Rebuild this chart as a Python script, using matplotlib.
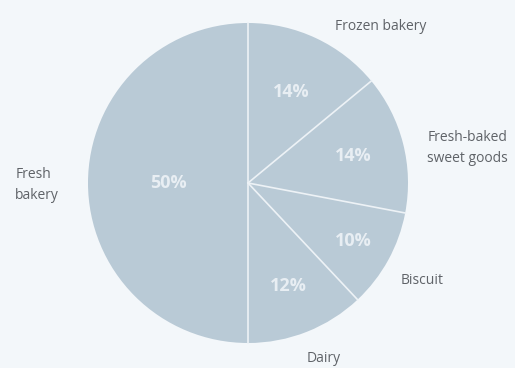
import matplotlib
matplotlib.use("Agg")
import matplotlib.pyplot as plt
import numpy as np

# Market share by segment (per cent), clockwise from 12 o'clock
categories = ["Frozen bakery", "Fresh-baked\nsweet goods", "Biscuit", "Dairy", "Fresh\nbakery"]
shares = [14, 14, 10, 12, 50]
pct_labels = ["14%", "14%", "10%", "12%", "50%"]

# Radial distance of each percentage label (fraction of radius)
pct_radius = [0.63, 0.68, 0.75, 0.69, 0.50]
# Category label anchors in data units (pie radius = 1)
label_pos = [(0.83, 0.98), (1.12, 0.22), (1.09, -0.61), (0.47, -1.10), (-1.455, -0.01)]
label_ha = ["center", "left", "center", "center", "left"]

bg = "#f3f7fa"
fill = "#b9cad6"
text_col = "#5f6368"

fig = plt.figure(figsize=(5.15, 3.68), dpi=100, facecolor=bg)
ax = fig.add_axes([0, 0, 1, 1])
ax.set_facecolor(bg)

wedges, _ = ax.pie(
    shares,
    startangle=90,
    counterclock=False,
    colors=[fill] * len(shares),
    wedgeprops=dict(edgecolor="none"),
    radius=1.0,
)

# white divider lines from centre to rim
angles = 90 - np.cumsum([0] + shares[:-1]) * 3.6
for a in angles:
    t = np.deg2rad(a)
    ax.plot([0, np.cos(t)], [0, np.sin(t)], color="#edf2f6", lw=1.2)

# percentage labels at the middle of each wedge
for w, txt, r in zip(wedges, pct_labels, pct_radius):
    mid = np.deg2rad((w.theta1 + w.theta2) / 2)
    ax.text(r * np.cos(mid), r * np.sin(mid), txt, ha="center", va="center",
            color="#e8eef3", fontsize=13, fontweight="bold", family="Open Sans")

# category labels
for name, (x, y), ha in zip(categories, label_pos, label_ha):
    ax.text(x, y, name, ha=ha, va="center", color=text_col, fontsize=10,
            family="Open Sans", linespacing=1.55)

ax.set_xlim(-248 / 160, (515 - 248) / 160)
ax.set_ylim(-185 / 160, 183 / 160)
ax.set_aspect("equal")
ax.axis("off")

fig.savefig("out.png", dpi=100, facecolor=bg)
